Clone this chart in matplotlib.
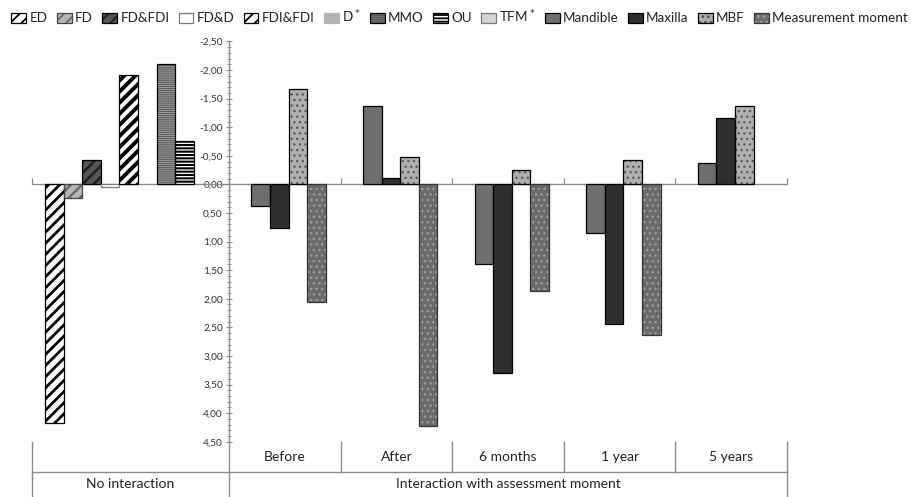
import numpy as np
import matplotlib
matplotlib.use('Agg')
import matplotlib.pyplot as plt
from matplotlib import transforms
from matplotlib.ticker import MultipleLocator, FuncFormatter


# effects without interaction (one bar per factor)
main_labels = ['ED', 'FD', 'FD&FDI', 'FD&D', 'FDI&FDI', 'D$^*$', 'MMO', 'OU', 'TFM$^*$']
main_values = [4.18, 0.23, -0.42, 0.05, -1.92, np.nan, -2.11, -0.76, np.nan]

# effects interacting with assessment moment
moments = ['Before', 'After', '6 months', '1 year', '5 years']
mandible = [0.37, -1.38, 1.39, 0.85, -0.37]
maxilla = [0.77, -0.11, 3.30, 2.44, -1.17]
mbf = [-1.67, -0.48, -0.25, -0.43, -1.38]
measurement = [2.06, 4.22, 1.87, 2.63, np.nan]

inter_labels = ['Mandible', 'Maxilla', 'MBF', 'Measurement moment']
inter_values = [mandible, maxilla, mbf, measurement]

group_labels = ['No interaction', 'Interaction with assessment moment']

MAIN_STYLE = [
    dict(face='white', hatch='///', hcolor='black', edge='black', hlw=2.0),
    dict(face='#b8b8b8', hatch='///', hcolor='#6a6a6a', edge='#444444', hlw=1.8),
    dict(face='#555555', hatch='///', hcolor='#1e1e1e', edge='black', hlw=1.8),
    dict(face='white', hatch=None, hcolor=None, edge='#7a7a7a', hlw=1.0),
    dict(face='white', hatch='///', hcolor='black', edge='black', hlw=2.8),
    dict(face='#b4b4b4', hatch=None, hcolor=None, edge='#b4b4b4', hlw=1.0),
    dict(face='#a0a0a0', hatch='--------', hcolor='#5a5a5a', edge='black', hlw=0.8),
    dict(face='white', hatch='-----', hcolor='black', edge='black', hlw=1.5),
    dict(face='#d4d4d4', hatch=None, hcolor=None, edge='#7a7a7a', hlw=1.0),
]
INTER_STYLE = [
    dict(face='#6e6e6e', hatch=None, hcolor=None, edge='black', hlw=1.0),
    dict(face='#2f2f2f', hatch=None, hcolor=None, edge='black', hlw=1.0),
    dict(face='#b0b0b0', hatch='...', hcolor='#5a5a5a', edge='black', hlw=1.0),
    dict(face='#6a6a6a', hatch='...', hcolor='#9c9c9c', edge='#333333', hlw=1.0),
]

GRID = '#8a8a8a'
LEFT_SPAN = 10.6     # width of the "no interaction" block, in bar widths
CAT_SPAN = 6.0       # width of one assessment moment, in bar widths


def draw_bars(ax, x, h, st):
    base = ax.bar(x, h, 1.0, color=st['face'], edgecolor='none', linewidth=0, zorder=3)
    parts = [base]
    if st['hatch']:
        hat = ax.bar(x, h, 1.0, color='none', edgecolor=st['hcolor'], hatch=st['hatch'],
                     linewidth=0, zorder=4)
        for p in hat:
            if hasattr(p, 'set_hatch_linewidth'):
                p.set_hatch_linewidth(st['hlw'])
        parts.append(hat)
    edge = ax.bar(x, h, 1.0, color='none', edgecolor=st['edge'], linewidth=0.9, zorder=5)
    parts.append(edge)
    return tuple(parts)


plt.rcParams['font.family'] = ['Lato', 'DejaVu Sans']
plt.rcParams['hatch.linewidth'] = 1.3

fig = plt.figure(figsize=(9.12, 4.97), dpi=100)
ax = fig.add_axes([32 / 912, 1 - 441.7 / 497, 755 / 912, 400.2 / 497])

handles = []
labels = []
main_x = 0.7 + 0.5 + np.arange(len(main_values))
for i, (lab, val) in enumerate(zip(main_labels, main_values)):
    handles.append(draw_bars(ax, [main_x[i]], [val], MAIN_STYLE[i]))
    labels.append(lab)

cat_start = LEFT_SPAN + CAT_SPAN * np.arange(len(moments))
for j, (lab, vals) in enumerate(zip(inter_labels, inter_values)):
    x = cat_start + 1.2 + 0.5 + j
    handles.append(draw_bars(ax, x, vals, INTER_STYLE[j]))
    labels.append(lab)

x_end = LEFT_SPAN + CAT_SPAN * len(moments)
ax.set_xlim(0, x_end)
ax.set_ylim(4.5, -2.5)

for s in ['top', 'right']:
    ax.spines[s].set_visible(False)
ax.spines['left'].set_position(('data', LEFT_SPAN))
ax.spines['bottom'].set_position(('data', 0))
for s in ['left', 'bottom']:
    ax.spines[s].set_color(GRID)
    ax.spines[s].set_linewidth(1.0)
ax.spines['bottom'].set_zorder(2)

ax.yaxis.set_major_locator(MultipleLocator(0.5))
ax.yaxis.set_minor_locator(MultipleLocator(0.1))
ax.yaxis.set_major_formatter(FuncFormatter(lambda v, p: '{:.2f}'.format(v + 0.0).replace('.', ',')))
ax.tick_params(axis='y', which='major', direction='inout', length=5, width=0.8,
               color=GRID, labelsize=7.3, labelcolor='#333333', pad=2)
ax.tick_params(axis='y', which='minor', direction='inout', length=2.5, width=0.6, color=GRID)

bounds = np.concatenate([[0], cat_start, [x_end]])
ax.set_xticks(bounds)
ax.set_xticklabels([])
ax.tick_params(axis='x', direction='in', length=4, width=0.8, color=GRID)

# category table under the plot
tr = transforms.blended_transform_factory(ax.transData, fig.transFigure)
y_ax = 1 - 441.7 / 497
y_mid = 1 - 471.7 / 497
kw = dict(color=GRID, lw=1.0, transform=tr, clip_on=False)
ax.plot([0, x_end], [y_mid, y_mid], **kw)
for xv in [0, LEFT_SPAN, x_end]:
    ax.plot([xv, xv], [y_ax, 0], **kw)
for xv in cat_start[1:]:
    ax.plot([xv, xv], [y_ax, y_mid], **kw)

for k, m in enumerate(moments):
    ax.text(cat_start[k] + CAT_SPAN / 2, (y_ax + y_mid) / 2, m, transform=tr,
            ha='center', va='center', fontsize=10, color='#222222')
ax.text(LEFT_SPAN / 2, y_mid / 2, group_labels[0], transform=tr,
        ha='center', va='center', fontsize=10, color='#222222')
ax.text((LEFT_SPAN + x_end) / 2, y_mid / 2, group_labels[1], transform=tr,
        ha='center', va='center', fontsize=10, color='#222222')

fig.legend(handles, labels, loc='center', bbox_to_anchor=(0.504, 0.966), ncol=len(labels),
           frameon=False, fontsize=9.7, handlelength=1.1, handleheight=0.8,
           handletextpad=0.25, columnspacing=0.68, borderpad=0, borderaxespad=0,
           labelcolor='#222222')

fig.savefig('out.png', dpi=100)
